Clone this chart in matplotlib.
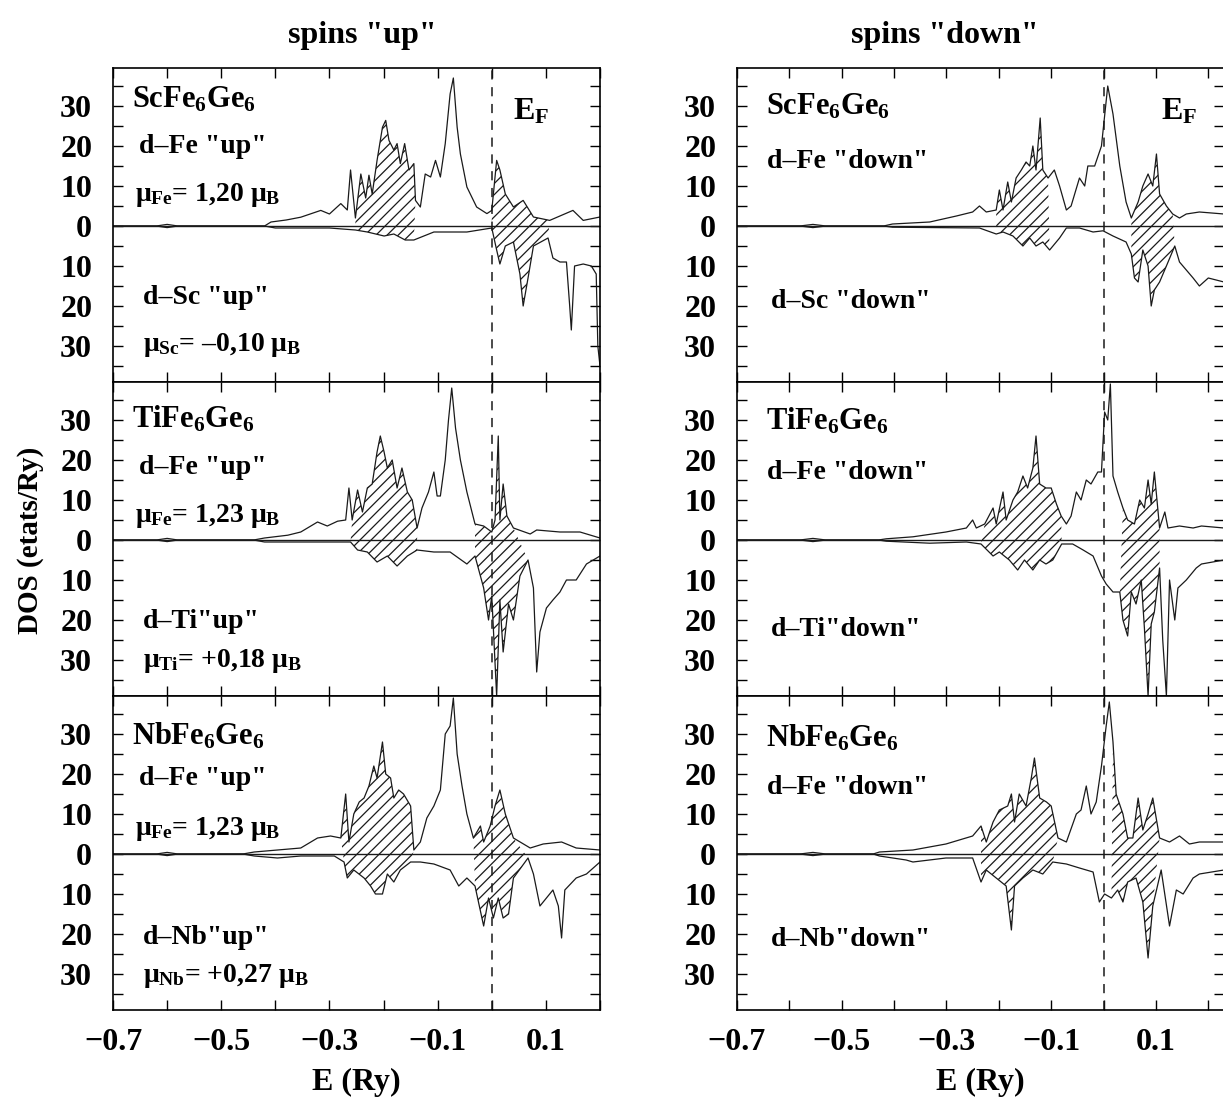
import numpy as np
import matplotlib
matplotlib.use("Agg")
import matplotlib.pyplot as plt
from matplotlib.ticker import FixedLocator, FuncFormatter, MultipleLocator

plt.rcParams['font.family'] = ['Liberation Serif', 'DejaVu Serif']
plt.rcParams['font.weight'] = 'bold'
plt.rcParams['mathtext.fontset'] = 'custom'
plt.rcParams['mathtext.rm'] = 'Liberation Serif:bold'
plt.rcParams['mathtext.it'] = 'Liberation Serif:bold'
plt.rcParams['mathtext.bf'] = 'Liberation Serif:bold'
plt.rcParams['hatch.linewidth'] = 0.9

# ---- data: (E in Ry, DOS in etats/Ry); partner DOS stored positive, drawn downward ----
# spins "up"
sc_up_fe = [(-0.70, 0), (-0.62, 0), (-0.60, 0.4), (-0.58, 0), (-0.42, 0), (-0.408, 1.0), (-0.38, 1.5),
            (-0.353, 2.2), (-0.316, 3.9), (-0.30, 3), (-0.279, 5.6), (-0.267, 4), (-0.261, 14), (-0.252, 2),
            (-0.242, 13), (-0.233, 7), (-0.227, 12.7), (-0.221, 8), (-0.212, 16.4), (-0.202, 24.7),
            (-0.196, 26.4), (-0.190, 21.4), (-0.181, 19), (-0.175, 20.6), (-0.169, 15.6), (-0.161, 20.6),
            (-0.153, 14), (-0.144, 15.6), (-0.141, 6.4), (-0.132, 4.75), (-0.123, 13), (-0.113, 12.25),
            (-0.104, 16.4), (-0.095, 12.25), (-0.086, 20.6), (-0.077, 33), (-0.071, 37), (-0.064, 24.7),
            (-0.058, 18), (-0.046, 9.75), (-0.028, 4.75), (-0.009, 3.1), (0.0, 3.9), (0.009, 16.4),
            (0.015, 14), (0.025, 8), (0.040, 4.75), (0.058, 6.4), (0.077, 2.25), (0.107, 1.4),
            (0.150, 3.9), (0.169, 1.4), (0.2, 2.25)]
sc_up_sc = [(-0.70, 0), (-0.62, 0), (-0.60, 0.4), (-0.58, 0), (-0.42, 0), (-0.40, 0.5), (-0.30, 0.5),
            (-0.252, 1), (-0.23, 1.5), (-0.199, 2.5), (-0.181, 2), (-0.160, 3.5), (-0.144, 3.5),
            (-0.107, 1.5), (-0.046, 1.5), (0.0, 0.5), (0.009, 6), (0.015, 9.5), (0.025, 5), (0.040, 4),
            (0.052, 12), (0.058, 20), (0.067, 13), (0.077, 5), (0.104, 3), (0.113, 8), (0.126, 9),
            (0.138, 9), (0.144, 20), (0.147, 26), (0.153, 10), (0.169, 9.5), (0.184, 10), (0.193, 12),
            (0.196, 30), (0.2, 35)]
ti_up_fe = [(-0.70, 0), (-0.62, 0), (-0.60, 0.4), (-0.58, 0), (-0.44, 0), (-0.42, 0.5), (-0.377, 1.2),
            (-0.353, 2), (-0.322, 4.5), (-0.304, 3.5), (-0.285, 4.7), (-0.270, 5), (-0.264, 13),
            (-0.258, 5), (-0.248, 12.5), (-0.239, 7), (-0.230, 13), (-0.221, 14), (-0.212, 22),
            (-0.206, 26), (-0.199, 22), (-0.193, 18), (-0.184, 20), (-0.175, 13), (-0.166, 18),
            (-0.156, 12), (-0.147, 10), (-0.138, 3), (-0.129, 8), (-0.117, 12), (-0.107, 17),
            (-0.101, 11), (-0.095, 11), (-0.086, 20), (-0.080, 30), (-0.074, 38), (-0.067, 28),
            (-0.058, 20), (-0.046, 12), (-0.031, 4), (-0.015, 3.5), (0.0, 2), (0.006, 5), (0.012, 26),
            (0.015, 5), (0.021, 14), (0.028, 6), (0.040, 3), (0.071, 1.5), (0.083, 2.5), (0.126, 2),
            (0.163, 2), (0.2, 0.5)]
ti_up_ti = [(-0.70, 0), (-0.62, 0), (-0.60, 0.4), (-0.58, 0), (-0.44, 0), (-0.42, 0.5), (-0.30, 0.5),
            (-0.261, 0.5), (-0.248, 2.5), (-0.230, 3), (-0.212, 5.5), (-0.193, 4), (-0.175, 6.5),
            (-0.156, 4), (-0.138, 2.5), (-0.107, 3), (-0.077, 3), (-0.046, 6), (-0.031, 4), (-0.015, 12),
            (-0.006, 20), (0.0, 14), (0.009, 39), (0.015, 15), (0.021, 28), (0.031, 16), (0.040, 20),
            (0.052, 9), (0.067, 5), (0.077, 12), (0.083, 33), (0.089, 23), (0.101, 17), (0.113, 15),
            (0.126, 13), (0.138, 10), (0.156, 10), (0.175, 6), (0.2, 4)]
nb_up_fe = [(-0.70, 0), (-0.62, 0), (-0.60, 0.4), (-0.58, 0), (-0.46, 0), (-0.439, 0.5), (-0.396, 1),
            (-0.353, 1.5), (-0.322, 4), (-0.298, 4.5), (-0.279, 4), (-0.270, 15), (-0.264, 3),
            (-0.255, 10), (-0.245, 13), (-0.236, 14), (-0.227, 17), (-0.218, 22), (-0.212, 19),
            (-0.202, 28), (-0.196, 20), (-0.187, 19), (-0.181, 14), (-0.172, 16), (-0.163, 15),
            (-0.150, 12), (-0.144, 1), (-0.132, 3), (-0.120, 9), (-0.107, 12), (-0.095, 16),
            (-0.086, 30), (-0.077, 32), (-0.071, 39), (-0.064, 25), (-0.055, 17), (-0.046, 10),
            (-0.034, 4), (-0.021, 7), (-0.015, 3), (-0.003, 7), (0.006, 12), (0.015, 16), (0.025, 10),
            (0.040, 4), (0.071, 1.5), (0.095, 2.5), (0.129, 3), (0.156, 1.5), (0.2, 1)]
nb_up_nb = [(-0.70, 0), (-0.62, 0), (-0.60, 0.4), (-0.58, 0), (-0.46, 0), (-0.439, 0.5), (-0.396, 1),
            (-0.353, 0.5), (-0.291, 0.5), (-0.273, 2), (-0.267, 6), (-0.255, 4), (-0.236, 6),
            (-0.224, 8), (-0.215, 10), (-0.202, 10), (-0.193, 5), (-0.181, 7), (-0.169, 4), (-0.150, 2),
            (-0.132, 2), (-0.107, 2.5), (-0.077, 4), (-0.061, 8), (-0.046, 6), (-0.031, 8), (-0.015, 18),
            (-0.006, 11), (0.003, 16), (0.012, 11), (0.021, 16), (0.031, 15), (0.040, 6), (0.067, 1),
            (0.077, 5), (0.089, 13), (0.101, 11), (0.113, 9), (0.123, 13), (0.129, 21), (0.135, 9),
            (0.156, 6), (0.175, 5), (0.2, 2)]

# spins "down"
sc_dn_fe = [(-0.70, 0), (-0.58, 0), (-0.555, 0.4), (-0.53, 0), (-0.42, 0), (-0.403, 0.5), (-0.332, 1),
            (-0.281, 2.5), (-0.250, 3.5), (-0.237, 5), (-0.224, 3.5), (-0.205, 4), (-0.199, 9),
            (-0.192, 4), (-0.183, 11), (-0.176, 6), (-0.167, 12), (-0.157, 14), (-0.148, 16),
            (-0.141, 15), (-0.135, 20), (-0.129, 14), (-0.121, 27), (-0.116, 14), (-0.106, 12),
            (-0.094, 14), (-0.084, 10), (-0.071, 4), (-0.062, 5), (-0.046, 12), (-0.036, 10),
            (-0.030, 15), (-0.017, 15), (-0.004, 20), (0.008, 35), (0.018, 28), (0.031, 15), (0.043, 6),
            (0.053, 2), (0.066, 6), (0.075, 10), (0.085, 13), (0.094, 10), (0.101, 18), (0.107, 8),
            (0.120, 5), (0.132, 3), (0.145, 2), (0.158, 3), (0.183, 3.5), (0.23, 3)]
sc_dn_sc = [(-0.70, 0), (-0.58, 0), (-0.555, 0.4), (-0.53, 0), (-0.42, 0), (-0.403, 0.3), (-0.237, 0.5),
            (-0.205, 2), (-0.192, 1.5), (-0.173, 2.5), (-0.154, 5), (-0.141, 3), (-0.129, 5),
            (-0.116, 4), (-0.103, 6), (-0.084, 3), (-0.071, 0.5), (-0.046, 0.5), (-0.020, 1.5),
            (-0.001, 1.2), (0.018, 2.5), (0.043, 4), (0.053, 7), (0.059, 13), (0.066, 14), (0.075, 6),
            (0.085, 10), (0.091, 20), (0.097, 16), (0.107, 14), (0.120, 10), (0.136, 5), (0.145, 9),
            (0.158, 11), (0.171, 13), (0.183, 15), (0.2, 13), (0.23, 14)]
ti_dn_fe = [(-0.70, 0), (-0.58, 0), (-0.555, 0.4), (-0.53, 0), (-0.43, 0), (-0.415, 0.3), (-0.364, 0.8),
            (-0.301, 2), (-0.262, 3), (-0.250, 5), (-0.243, 3), (-0.227, 4), (-0.211, 8), (-0.205, 4),
            (-0.192, 12), (-0.186, 5), (-0.173, 10), (-0.164, 12), (-0.154, 16), (-0.145, 13),
            (-0.135, 18), (-0.129, 26), (-0.122, 14), (-0.110, 13), (-0.100, 13), (-0.090, 9),
            (-0.081, 6), (-0.071, 4), (-0.062, 6), (-0.052, 12), (-0.043, 10), (-0.033, 15),
            (-0.024, 14), (-0.011, 17), (-0.004, 17), (0.002, 32), (0.008, 30), (0.013, 39),
            (0.018, 16), (0.027, 12), (0.037, 8), (0.046, 5), (0.059, 4), (0.069, 10), (0.078, 8),
            (0.085, 15), (0.091, 9), (0.097, 17), (0.107, 3), (0.117, 7), (0.123, 3), (0.145, 3.5),
            (0.171, 3), (0.187, 3.5), (0.23, 3)]
ti_dn_ti = [(-0.70, 0), (-0.58, 0), (-0.555, 0.4), (-0.53, 0), (-0.43, 0), (-0.415, 0.3), (-0.332, 0.8),
            (-0.262, 0.5), (-0.234, 1), (-0.211, 4), (-0.199, 3), (-0.180, 5), (-0.164, 7.5),
            (-0.151, 5), (-0.135, 7.5), (-0.122, 5), (-0.110, 6), (-0.097, 5), (-0.080, 1), (-0.059, 1),
            (-0.039, 2.5), (-0.020, 4), (-0.004, 9), (0.005, 11), (0.018, 13), (0.031, 13), (0.037, 20),
            (0.046, 24), (0.053, 13), (0.062, 16), (0.072, 10), (0.078, 22), (0.085, 39), (0.091, 21),
            (0.097, 18), (0.107, 7), (0.113, 25), (0.120, 39), (0.126, 10), (0.136, 20), (0.142, 12),
            (0.158, 10), (0.177, 7), (0.187, 6), (0.23, 5)]
nb_dn_fe = [(-0.70, 0), (-0.58, 0), (-0.555, 0.4), (-0.53, 0), (-0.44, 0), (-0.428, 0.5), (-0.364, 1),
            (-0.301, 2.5), (-0.250, 4.5), (-0.234, 7), (-0.224, 3), (-0.211, 8), (-0.199, 11),
            (-0.183, 12), (-0.176, 15), (-0.170, 8), (-0.161, 15), (-0.148, 12), (-0.138, 19),
            (-0.132, 24), (-0.122, 14), (-0.109, 13), (-0.100, 12), (-0.087, 4), (-0.071, 3),
            (-0.052, 10), (-0.043, 11), (-0.033, 17), (-0.024, 10), (-0.014, 13), (-0.004, 22),
            (0.005, 32), (0.011, 38), (0.018, 28), (0.024, 15), (0.037, 10), (0.046, 4), (0.056, 4),
            (0.066, 14), (0.075, 6), (0.085, 10), (0.094, 14), (0.107, 4), (0.126, 3), (0.145, 4.5),
            (0.164, 2.5), (0.183, 3), (0.23, 3)]
nb_dn_nb = [(-0.70, 0), (-0.58, 0), (-0.555, 0.4), (-0.53, 0), (-0.44, 0), (-0.428, 0.5), (-0.377, 1.5),
            (-0.364, 2), (-0.301, 1), (-0.250, 1), (-0.234, 7), (-0.224, 4), (-0.205, 6), (-0.186, 8),
            (-0.176, 19), (-0.170, 8), (-0.154, 6), (-0.135, 4), (-0.116, 5), (-0.097, 2), (-0.071, 2.5),
            (-0.046, 3.5), (-0.020, 4.5), (-0.008, 12), (0.002, 10), (0.015, 11), (0.027, 9),
            (0.037, 12), (0.046, 7), (0.062, 6), (0.075, 12), (0.085, 26), (0.094, 13), (0.110, 4),
            (0.126, 18), (0.139, 9), (0.152, 10), (0.171, 6), (0.183, 5), (0.23, 4)]

# hatched energy windows (Ry)
sc_up_hatch = [(-0.252, -0.141), (0.0, 0.107)]
ti_up_hatch = [(-0.261, -0.137), (-0.031, 0.067)]
nb_up_hatch = [(-0.282, -0.144), (-0.040, 0.067)]
sc_dn_hatch = [(-0.206, -0.100), (0.053, 0.136)]
ti_dn_hatch = [(-0.235, -0.080), (0.031, 0.107)]
nb_dn_hatch = [(-0.243, -0.087), (0.015, 0.107)]

compounds = ['ScFe$_6$Ge$_6$', 'TiFe$_6$Ge$_6$', 'NbFe$_6$Ge$_6$']
up_labels = [('d\u2013Fe "up"', r'$\mu_{Fe}$= 1,20 $\mu_B$', 'd\u2013Sc "up"', r'$\mu_{Sc}$= ' + '\u2013' + r'0,10 $\mu_B$'),
             ('d\u2013Fe "up"', r'$\mu_{Fe}$= 1,23 $\mu_B$', 'd\u2013Ti"up"', r'$\mu_{Ti}$= +0,18 $\mu_B$'),
             ('d\u2013Fe "up"', r'$\mu_{Fe}$= 1,23 $\mu_B$', 'd\u2013Nb"up"', r'$\mu_{Nb}$= +0,27 $\mu_B$')]
down_labels = [('d\u2013Fe "down"', 'd\u2013Sc "down"'),
               ('d\u2013Fe "down"', 'd\u2013Ti"down"'),
               ('d\u2013Fe "down"', 'd\u2013Nb"down"')]
xtick_vals = [-0.7, -0.5, -0.3, -0.1, 0.1]

up_data = [(sc_up_fe, sc_up_sc, sc_up_hatch), (ti_up_fe, ti_up_ti, ti_up_hatch), (nb_up_fe, nb_up_nb, nb_up_hatch)]
dn_data = [(sc_dn_fe, sc_dn_sc, sc_dn_hatch), (ti_dn_fe, ti_dn_ti, ti_dn_hatch), (nb_dn_fe, nb_dn_nb, nb_dn_hatch)]

W, H = 1223, 1106
fig = plt.figure(figsize=(W / 100, H / 100), dpi=100)

def px_axes(x0, x1, y0, y1):
    return fig.add_axes([x0 / W, 1 - y1 / H, (x1 - x0) / W, (y1 - y0) / H])

def draw_panel(ax, fe, other, windows, xmax, bottom):
    fe = np.array(fe, dtype=float)
    other = np.array(other, dtype=float)
    ax.plot(fe[:, 0], fe[:, 1], color='#1a1a1a', lw=0.9)
    ax.plot(other[:, 0], -other[:, 1], color='#1a1a1a', lw=0.9)
    for lo, hi in windows:
        m1 = (fe[:, 0] >= lo) & (fe[:, 0] <= hi)
        m2 = (other[:, 0] >= lo) & (other[:, 0] <= hi)
        xs = np.concatenate([fe[m1, 0], other[m2, 0][::-1]])
        ys = np.concatenate([fe[m1, 1], -other[m2, 1][::-1]])
        ax.fill(xs, ys, facecolor='none', edgecolor='#1a1a1a', lw=0, hatch='///')
    ax.axhline(0, color='#1a1a1a', lw=1.0)
    ax.axvline(0, color='#1a1a1a', lw=1.1, ls=(0, (6, 5)))
    ax.set_xlim(-0.7, xmax)
    ax.set_ylim(-39, 39.5)
    ax.xaxis.set_major_locator(FixedLocator(xtick_vals))
    ax.xaxis.set_minor_locator(FixedLocator([-0.6, -0.4, -0.2, 0.0, 0.2]))
    ax.yaxis.set_major_locator(FixedLocator([-30, -20, -10, 0, 10, 20, 30]))
    ax.yaxis.set_minor_locator(MultipleLocator(5))
    ax.yaxis.set_major_formatter(FuncFormatter(lambda v, p: f'{abs(v):g}'))
    ax.xaxis.set_major_formatter(FuncFormatter(lambda v, p: f'{v:.1f}'.replace('-', '\u2212')))
    ax.tick_params(which='both', direction='in', top=True, right=True, length=7, width=1.0)
    ax.tick_params(axis='y', labelsize=23, pad=15)
    ax.tick_params(axis='x', labelsize=23, pad=13, labelbottom=bottom)
    for s in ax.spines.values():
        s.set_linewidth(1.2)

tops = [68, 382, 696]
ph = 314
txt = dict(fontsize=20, fontweight='bold', va='center', ha='left')
for k in range(3):
    # spins up column
    ax = px_axes(113, 600, tops[k], tops[k] + ph)
    fe, other, win = up_data[k]
    draw_panel(ax, fe, other, win, 0.2, k == 2)
    ax.text(-0.665, [31.5, 30.3, 29.5][k], compounds[k], fontsize=22, fontweight='bold', va='center')
    l1, l2, l3, l4 = up_labels[k]
    ax.text(-0.652, [19.8, 18.0, 18.8][k], l1, **txt)
    ax.text(-0.66, [7.8, 6.0, 6.3][k], l2, **txt)
    ax.text(-0.645, [-18.0, -20.3, -21.0][k], l3, **txt)
    ax.text(-0.645, [-29.8, -30.3, -30.5][k], l4, **txt)
    if k == 0:
        ax.text(0.04, 28.5, 'E$_F$', fontsize=23, fontweight='bold', va='center')
    if k == 2:
        ax.set_xlabel('E (Ry)', fontsize=23, fontweight='bold', labelpad=8)

    # spins down column
    ax = px_axes(737, 1224, tops[k], tops[k] + ph)
    fe, other, win = dn_data[k]
    draw_panel(ax, fe, other, win, 0.23, k == 2)
    ax.text(-0.645, [29.8, 29.8, 29.0][k], compounds[k], fontsize=22, fontweight='bold', va='center')
    d1, d2 = down_labels[k]
    ax.text(-0.642, [16.0, 16.8, 16.5][k], d1, **txt)
    ax.text(-0.636, [-19.0, -22.3, -21.3][k], d2, **txt)
    if k == 0:
        ax.text(0.11, 28.5, 'E$_F$', fontsize=23, fontweight='bold', va='center')
    if k == 2:
        ax.set_xlabel('E (Ry)', fontsize=23, fontweight='bold', labelpad=8)

fig.text(362 / W, 1 - 35 / H, 'spins "up"', fontsize=23, fontweight='bold', ha='center', va='center')
fig.text(945 / W, 1 - 35 / H, 'spins "down"', fontsize=23, fontweight='bold', ha='center', va='center')
fig.text(30 / W, 1 - 540 / H, 'DOS (etats/Ry)', fontsize=21, fontweight='bold', rotation=90,
         ha='center', va='center')

fig.savefig('out.png', dpi=100, facecolor='white')
